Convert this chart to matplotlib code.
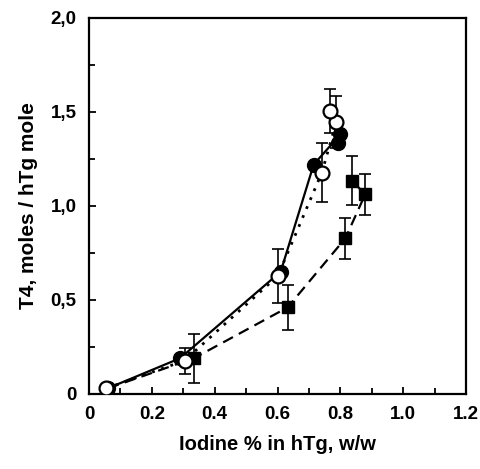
import numpy as np
import matplotlib.pyplot as plt
from matplotlib.ticker import MultipleLocator, FixedLocator

plt.rcParams['font.family'] = ['Liberation Sans', 'DejaVu Sans']
plt.rcParams['font.weight'] = 'bold'

# filled circles (solid line)
x_filled = [0.06, 0.29, 0.61, 0.715, 0.80, 0.792]
y_filled = [0.03, 0.19, 0.65, 1.22, 1.38, 1.336]

# open circles (dotted line)
x_open = [0.055, 0.304, 0.601, 0.741, 0.787, 0.768]
y_open = [0.03, 0.177, 0.628, 1.177, 1.446, 1.504]
err_open = [0.0, 0.07, 0.145, 0.157, 0.14, 0.115]

# squares (dashed line)
x_sq = [0.06, 0.334, 0.632, 0.816, 0.879, 0.837]
y_sq = [0.03, 0.19, 0.46, 0.828, 1.062, 1.133]
err_sq = [0.0, 0.13, 0.12, 0.11, 0.11, 0.13]

x_ticks = [0, 0.2, 0.4, 0.6, 0.8, 1.0, 1.2]
x_ticklabels = ['0', '0.2', '0.4', '0.6', '0.8', '1.0', '1.2']
y_ticks = [0, 0.5, 1.0, 1.5, 2.0]
y_ticklabels = ['0', '0,5', '1,0', '1,5', '2,0']

fig = plt.figure(figsize=(4.81, 4.69), dpi=100)
ax = fig.add_axes([0.185, 0.16, 0.784, 0.802])

ax.errorbar(x_sq[1:], y_sq[1:], yerr=err_sq[1:], fmt='none', ecolor='black',
            elinewidth=1.2, capsize=4, capthick=1.2, zorder=2)
ax.errorbar(x_open[1:], y_open[1:], yerr=err_open[1:], fmt='none', ecolor='black',
            elinewidth=1.2, capsize=4, capthick=1.2, zorder=2)

ax.plot(x_sq, y_sq, linestyle=(0, (5, 3)), color='black', lw=1.6, zorder=3)
ax.plot(x_sq[1:], y_sq[1:], 's', color='black', ms=8, zorder=4)

ax.plot(x_filled, y_filled, '-', color='black', lw=1.6, zorder=3)
ax.plot(x_filled, y_filled, 'o', color='black', ms=10, zorder=4)

ax.plot(x_open, y_open, linestyle=(0, (1, 2.5)), color='black', lw=2, zorder=3)
ax.plot(x_open, y_open, 'o', mfc='white', mec='black', mew=1.6, ms=10, zorder=5)

ax.set_xlim(0, 1.2)
ax.set_ylim(0, 2.0)
ax.xaxis.set_major_locator(FixedLocator(x_ticks))
ax.xaxis.set_minor_locator(MultipleLocator(0.1))
ax.yaxis.set_major_locator(FixedLocator(y_ticks))
ax.yaxis.set_minor_locator(MultipleLocator(0.25))
ax.set_xticklabels(x_ticklabels)
ax.set_yticklabels(y_ticklabels)
ax.tick_params(which='both', direction='in', width=1.3, top=False, right=False,
               labelsize=13.5)
ax.tick_params(axis='x', which='major', pad=9)
ax.tick_params(axis='y', which='major', pad=9)
ax.tick_params(which='major', length=5)
ax.tick_params(which='minor', length=4)
for s in ax.spines.values():
    s.set_linewidth(1.6)

ax.set_xlabel('Iodine % in hTg, w/w', fontsize=14.5, fontweight='bold', labelpad=8)
ax.set_ylabel('T4, moles / hTg mole', fontsize=15, fontweight='bold', labelpad=9)

fig.savefig('out.png', dpi=100)
